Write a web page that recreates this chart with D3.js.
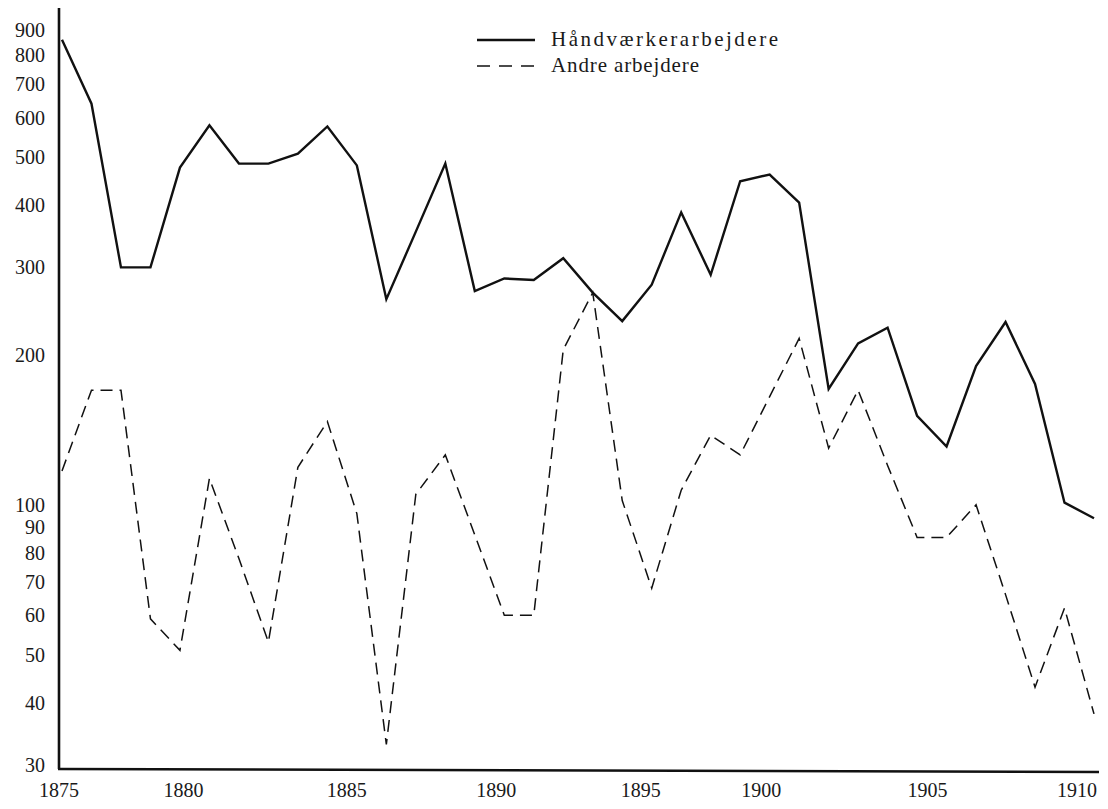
<!DOCTYPE html>
<html>
<head>
<meta charset="utf-8">
<script src="https://cdn.jsdelivr.net/npm/d3@7"></script>
<style>
  html, body { margin: 0; padding: 0; background: #fff; }
  svg { display: block; }
  text { font-family: "Liberation Serif", "DejaVu Serif", serif; fill: #1a1a1a; }
</style>
</head>
<body>
<svg id="chart" width="1108" height="809"></svg>
<script>
// ---- data ----
const years = d3.range(1875, 1911);
const haandvaerkere = [860, 640, 300, 300, 476, 579, 485, 485, 508, 576,
                       481, 259, 354, 485, 269, 285, 283, 313, 267, 234,
                       277, 387, 290, 447, 461, 405, 171, 211, 227, 151,
                       131, 190, 233, 175, 101, 94];
const andre = [117, 170, 170, 59, 51, 113, 78, 53, 119, 147,
               96, 33, 105, 126, 87, 60, 60, 205, 267, 102,
               68, 107, 138, 126, 165, 216, 130, 170, 120, 86,
               86, 100, 66, 43, 62, 38];
const seriesNames = ["Håndværkerarbejdere", "Andre arbejdere"];
const yTickValues = [30, 40, 50, 60, 70, 80, 90, 100, 200, 300, 400, 500, 600, 700, 800, 900];
const xTickYears = [1875, 1880, 1885, 1890, 1895, 1900, 1905, 1910];

// ---- layout ----
const svg = d3.select("#chart");
const x = d3.scaleLinear().domain([1875, 1910]).range([62, 1094]);
const y = d3.scaleLog().domain([30, 900]).range([765, 30]);
// the printed year labels sit off their true year positions in the original
const xLabelNudge = [-3, -26, -10, -8, -11, -38, -19, -17];

const ink = "#111";

// axes lines
svg.append("line").attr("x1", 59).attr("x2", 59).attr("y1", 8).attr("y2", 769)
  .attr("stroke", ink).attr("stroke-width", 2.6);
svg.append("line").attr("x1", 58).attr("x2", 1099).attr("y1", 769).attr("y2", 772)
  .attr("stroke", ink).attr("stroke-width", 2.6);

// y axis labels (via d3 axis, no ticks/domain)
const yAxis = d3.axisLeft(y).tickValues(yTickValues).tickFormat(d3.format("d")).tickSize(0).tickPadding(0);
const gy = svg.append("g").attr("transform", "translate(45,0)").call(yAxis);
gy.select(".domain").remove();
gy.selectAll("text").attr("font-size", 20).attr("font-family", "Liberation Serif, serif").attr("fill", "#1a1a1a");

// x axis labels
const gx = svg.append("g");
gx.selectAll("text").data(xTickYears).join("text")
  .attr("x", (d, i) => x(d) + xLabelNudge[i])
  .attr("y", 797)
  .attr("text-anchor", "middle")
  .attr("font-size", 20)
  .text(d => d);

// lines
const line = d3.line().x((d, i) => x(years[i])).y(d => y(d));
svg.append("path").datum(haandvaerkere).attr("d", line)
  .attr("fill", "none").attr("stroke", ink).attr("stroke-width", 2.4).attr("stroke-linejoin", "miter");
svg.append("path").datum(andre).attr("d", line)
  .attr("fill", "none").attr("stroke", ink).attr("stroke-width", 1.5)
  .attr("stroke-dasharray", "12,7");

// legend
const lg = svg.append("g");
lg.append("line").attr("x1", 477).attr("x2", 535).attr("y1", 40).attr("y2", 40)
  .attr("stroke", ink).attr("stroke-width", 2.4);
lg.append("line").attr("x1", 477).attr("x2", 535).attr("y1", 66).attr("y2", 66)
  .attr("stroke", ink).attr("stroke-width", 1.5).attr("stroke-dasharray", "13,9");
lg.append("text").attr("x", 551).attr("y", 46).attr("font-size", 21)
  .attr("textLength", 227).attr("lengthAdjust", "spacing").text(seriesNames[0]);
lg.append("text").attr("x", 551).attr("y", 72).attr("font-size", 21)
  .attr("textLength", 148).attr("lengthAdjust", "spacing").text(seriesNames[1]);
</script>
</body>
</html>
